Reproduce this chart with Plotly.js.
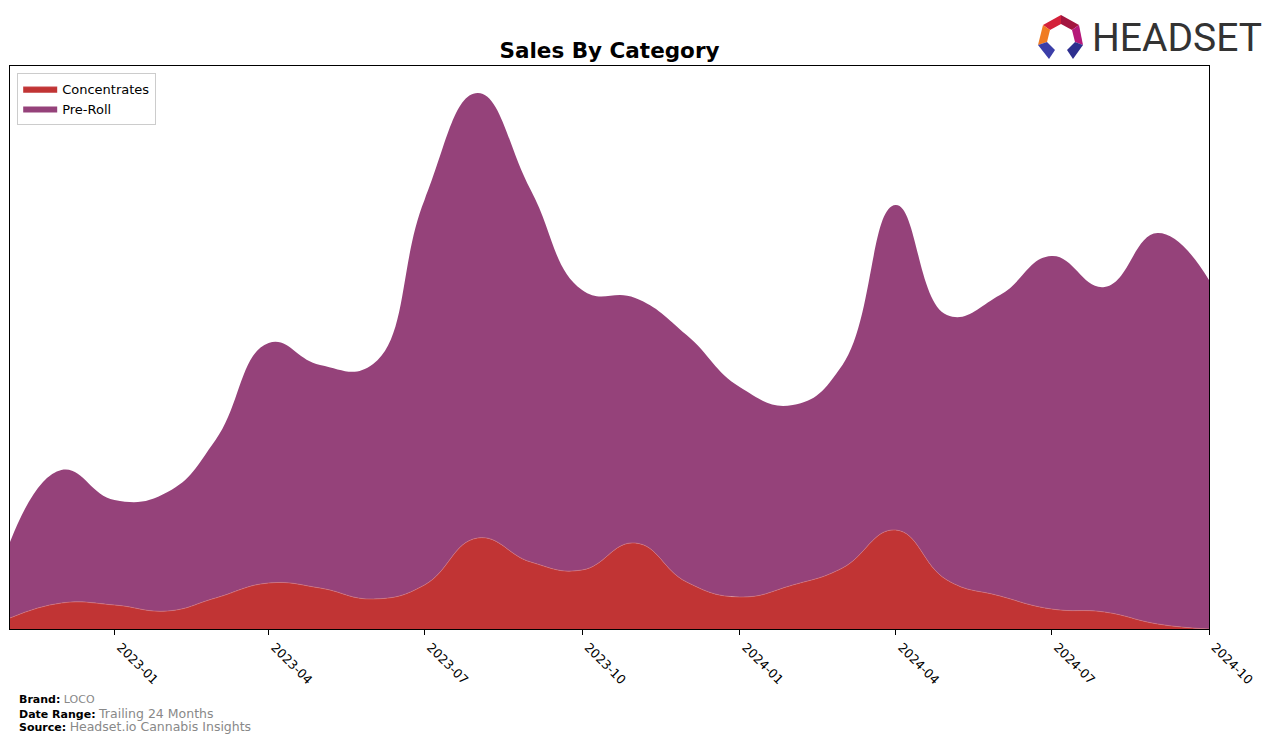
<!DOCTYPE html>
<html>
<head>
<meta charset="utf-8">
<script src="https://cdn.plot.ly/plotly-3.0.1.min.js"></script>
<style>html,body{margin:0;padding:0;background:#fff;}#chart{width:1276px;height:743px;}</style>
</head>
<body>
<div id="chart"></div>
<script>
// Monthly data (relative units, y axis hidden)
const months = ["2022-11-01","2022-12-01","2023-01-01","2023-02-01","2023-03-01","2023-04-01",
  "2023-05-01","2023-06-01","2023-07-01","2023-08-01","2023-09-01","2023-10-01",
  "2023-11-01","2023-12-01","2024-01-01","2024-02-01","2024-03-01","2024-04-01",
  "2024-05-01","2024-06-01","2024-07-01","2024-08-01","2024-09-01","2024-10-01"];
const concentrates = [11,26,24,18,31,46,41,30,44,91,67,59,86,47,32,44,61,99,49,33,20,17,5,0];
const totalSales   = [87,159,129,137,189,286,264,265,429,536,439,339,331,294,242,224,264,424,314,334,373,342,396,349];
const preRoll = totalSales.map((t,i) => t - concentrates[i]);
const tickVals = ["2023-01-01","2023-04-01","2023-07-01","2023-10-01","2024-01-01","2024-04-01","2024-07-01","2024-10-01"];
const tickText = ["2023-01","2023-04","2023-07","2023-10","2024-01","2024-04","2024-07","2024-10"];

const colConc = "#c13434";
const colPre = "#95427a";

const traces = [
  {x: months, y: concentrates, name: "Concentrates", type: "scatter", mode: "lines",
   stackgroup: "one", line: {shape: "spline", smoothing: 1.3, width: 0.6, color: "#d8777a"},
   fillcolor: colConc, hoverinfo: "skip"},
  {x: months, y: preRoll, name: "Pre-Roll", type: "scatter", mode: "lines",
   stackgroup: "one", line: {shape: "spline", smoothing: 1.3, width: 0, color: colPre},
   fillcolor: colPre, hoverinfo: "skip"}
];

const logoSvg = '<svg xmlns="http://www.w3.org/2000/svg" viewBox="1036 13 50 48" width="50" height="48">' +
  '<polygon points="1043,25 1061,15 1061,24 1050,30" fill="#d4213a"/>' +
  '<polygon points="1061,15 1079,25 1072,30 1061,24" fill="#a3153f"/>' +
  '<polygon points="1079,25 1083,45 1075,42 1072,30" fill="#b5197a"/>' +
  '<polygon points="1043,25 1050,30 1047,42 1038,45" fill="#f07b22"/>' +
  '<polygon points="1038,45 1047,42 1055,50 1049,59" fill="#3b3ea8"/>' +
  '<polygon points="1083,45 1075,42 1067,50 1073,59" fill="#2e2f8f"/>' +
  '</svg>';
const logoUri = "data:image/svg+xml;base64," + btoa(logoSvg);

const layout = {
  width: 1276, height: 743,
  margin: {l: 10, r: 67, t: 66, b: 114},
  paper_bgcolor: "#fff", plot_bgcolor: "#fff",
  font: {family: "DejaVu Sans", size: 12, color: "#000"},
  title: {text: "<b>Sales By Category</b>", font: {family: "DejaVu Sans", size: 21.5, color: "#000"},
          xref: "paper", x: 0.5, xanchor: "center", yref: "container", y: 1 - 50/743, yanchor: "middle"},
  showlegend: true,
  legend: {x: 0.006, y: 0.988, xanchor: "left", yanchor: "top", bgcolor: "#fff", itemwidth: 34,
           bordercolor: "#cccccc", borderwidth: 1, font: {family: "DejaVu Sans", size: 13}, traceorder: "normal"},
  xaxis: {type: "date", range: ["2022-11-01","2024-10-01"], tickvals: tickVals, ticktext: tickText,
          tickangle: 45, ticks: "outside", ticklen: 5, tickcolor: "#000", showgrid: false, zeroline: false,
          showline: true, linecolor: "#000", linewidth: 1, mirror: true, ticklabelshift: 6,
          tickfont: {family: "DejaVu Sans", size: 12.5, color: "#000"}},
  yaxis: {range: [0, 563], showticklabels: false, ticks: "", showgrid: false, zeroline: false,
          showline: true, linecolor: "#000", linewidth: 1, mirror: true},
  images: [{source: logoUri, xref: "paper", yref: "paper", x: (1036-10)/1199, y: (629-13)/563,
            sizex: 50/1199, sizey: 48/563, xanchor: "left", yanchor: "top", sizing: "stretch", layer: "above"}],
  annotations: [
    {text: "HEADSET", xref: "paper", yref: "paper", x: (1090-10)/1199, y: (629-38)/563,
     xanchor: "left", yanchor: "middle", showarrow: false,
     font: {family: "Roboto", size: 39, color: "#333333"}},
    {text: "<b>Brand:</b> <span style='color:#888'>LOCO</span>", xref: "paper", yref: "paper",
     x: (17-10)/1199, y: (629-699)/563, xanchor: "left", yanchor: "middle", showarrow: false, align: "left",
     font: {family: "DejaVu Sans", size: 11, color: "#000"}},
    {text: "<b>Date Range:</b> <span style='color:#888;font-size:12.5px'>Trailing 24 Months</span>", xref: "paper", yref: "paper",
     x: (17-10)/1199, y: (629-713)/563, xanchor: "left", yanchor: "middle", showarrow: false, align: "left",
     font: {family: "DejaVu Sans", size: 11, color: "#000"}},
    {text: "<b>Source:</b> <span style='color:#888;font-size:12.5px'>Headset.io Cannabis Insights</span>", xref: "paper", yref: "paper",
     x: (17-10)/1199, y: (629-726)/563, xanchor: "left", yanchor: "middle", showarrow: false, align: "left",
     font: {family: "DejaVu Sans", size: 11, color: "#000"}}
  ],
  hovermode: false
};

Plotly.newPlot("chart", traces, layout, {displayModeBar: false, staticPlot: true});
</script>
</body>
</html>
